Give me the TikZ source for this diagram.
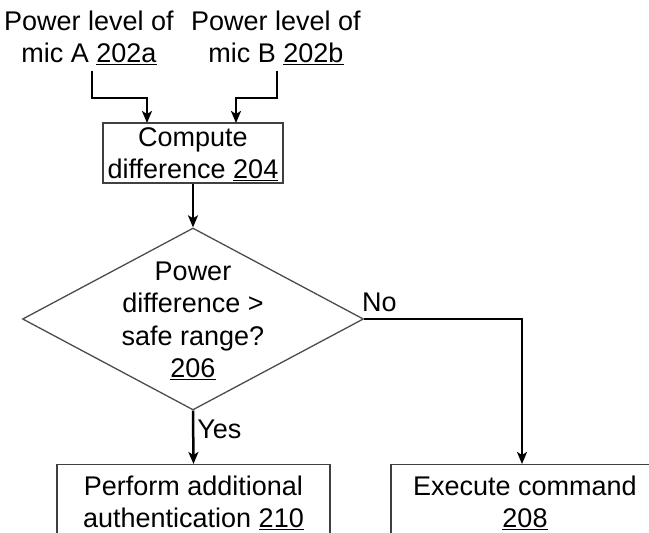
\documentclass[tikz,border=0pt]{standalone}
\usepackage{fontspec}
\setmainfont{Liberation Sans}
\usetikzlibrary{shapes.geometric,arrows.meta}
\tikzset{
  lbl/.style={align=center, inner sep=0pt},
  box/.style={draw=black!75, line width=1.3pt, inner sep=0pt},
  dec/.style={diamond, draw=black!70, line width=1.3pt, inner sep=0pt, minimum width=341pt, minimum height=182pt, aspect=1.87},
  arr/.style={line width=2.5pt, -{Stealth[length=12pt,width=10pt,inset=3pt]}},
  conn/.style={line width=2.5pt}
}
\begin{document}
\begin{tikzpicture}[x=1pt,y=-1pt, font=\fontsize{27}{32.5}\selectfont]
\useasboundingbox (0,0) rectangle (649,533);
\clip (0,0) rectangle (649,533);
% inputs
\node[lbl] (ma) at (89,38) {Power level of\\mic A \underline{202a}};
\node[lbl] (mb) at (276,38) {Power level of\\mic B \underline{202b}};
\coordinate (ma0) at (92,71);
\coordinate (mb0) at (277,71);
% compute
\node[box, minimum width=180pt, minimum height=60pt] (comp) at (193,153) {};
\node[lbl] (comptext) at (193,154) {Compute\\difference \underline{204}};
\coordinate (ca) at (147,123);
\coordinate (cb) at (236,123);
% decision
\node[dec] (dia) at (193,319) {};
\node[lbl] (diatext) at (193,321) {Power\\difference >\\safe range?\\\underline{206}};
% bottom boxes
\node[box, minimum width=273pt, minimum height=100pt, anchor=north] (auth) at (193.5,464) {};
\node[lbl] (authtext) at (193.5,503) {Perform additional\\authentication \underline{210}};
\node[box, minimum width=262pt, minimum height=100pt, anchor=north] (exec) at (522,464) {};
\node[lbl] (exectext) at (525,503) {Execute command\\\underline{208}};
% connectors
\draw[arr] (ma0) |- (147,98) -- (ca);
\draw[arr] (mb0) |- (236,98) -- (cb);
\draw[arr] (comp.south) -- (dia.north);
\draw[arr] (dia.south) -- (auth.north) node[pos=0.35, right=3pt, lbl] (yes) {Yes};
\draw[conn] (dia.east) -- (522,319);
\draw[arr] (522,317.75) -- (exec.north);
\node[lbl, anchor=south west] (no) at (362,312) {No};
\end{tikzpicture}
\end{document}
